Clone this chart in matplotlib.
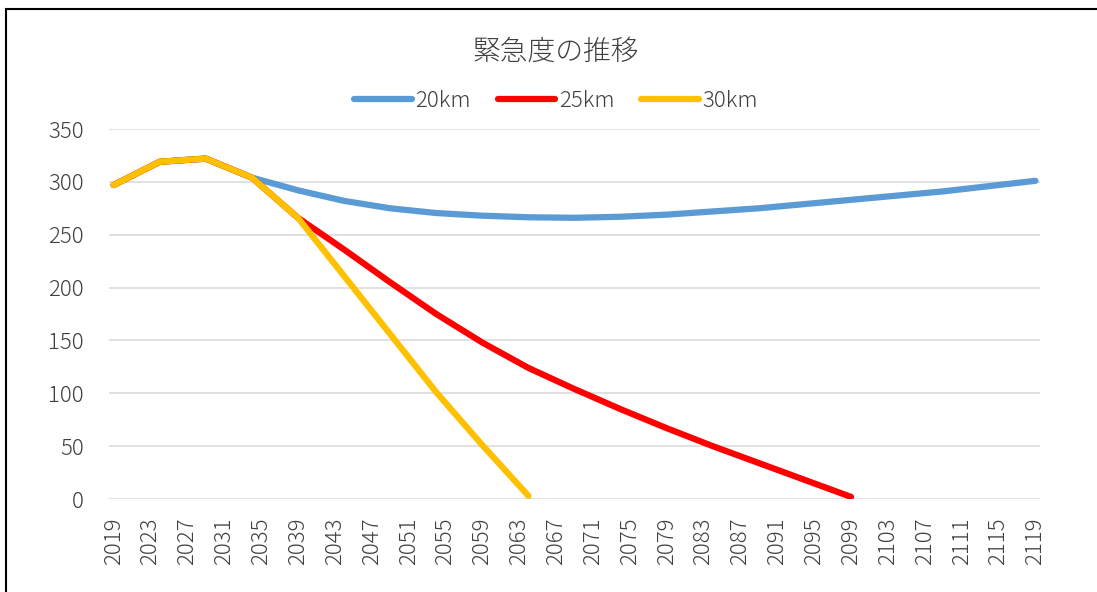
import numpy as np
import matplotlib.pyplot as plt
from matplotlib.patches import Rectangle

plt.rcParams['font.family'] = ['Noto Sans CJK JP', 'DejaVu Sans']
plt.rcParams['font.weight'] = 'light'

# data (5-year steps)
years_20 = [2019, 2024, 2029, 2034, 2039, 2044, 2049, 2054, 2059, 2064, 2069,
            2074, 2079, 2084, 2089, 2094, 2099, 2104, 2109, 2114, 2119]
vals_20 = [297, 319, 322, 304, 292, 282, 275, 270.5, 268, 266.5, 266,
           267, 269, 272, 275, 279, 283, 287, 291, 296, 301]

years_25 = [2019, 2024, 2029, 2034, 2039, 2044, 2049, 2054, 2059, 2064, 2069,
            2074, 2079, 2084, 2089, 2094, 2099]
vals_25 = [297, 319, 322, 304, 266, 236, 205, 175, 148, 124, 104,
           85, 67, 50, 34, 18, 2]

years_30 = [2019, 2024, 2029, 2034, 2039, 2044, 2049, 2054, 2059, 2064]
vals_30 = [297, 319, 322, 304, 266, 211, 156, 101, 51, 3]

title = "緊急度の推移"
labels = ["20km", "25km", "30km"]
colors = ["#5B9BD5", "#FF0000", "#FFC000"]
txt_color = '#404040'

fig = plt.figure(figsize=(10.97, 5.92), dpi=100)
ax = fig.add_axes([109 / 1097, 1 - 499 / 592, (1040 - 109) / 1097, 370 / 592])

# plot
series = [(years_20, vals_20), (years_25, vals_25), (years_30, vals_30)]
for (x, y), lab, c in zip(series, labels, colors):
    ax.plot(x, y, color=c, lw=4.5, label=lab, solid_capstyle='round',
            solid_joinstyle='round')

ax.set_xlim(2018.5, 2119.5)
ax.set_ylim(0, 350)
ax.set_yticks(np.arange(0, 351, 50))
ax.set_xticks(np.arange(2019, 2120, 4))
ax.tick_params(axis='x', length=0, pad=13, labelsize=16, rotation=90,
               colors=txt_color)
ax.tick_params(axis='y', length=0, pad=18, labelsize=16, colors=txt_color)
ax.grid(axis='y', color='#D9D9D9', lw=1.1)
ax.set_axisbelow(True)
for s in ax.spines.values():
    s.set_visible(False)

fig.text(556 / 1097, 1 - 52 / 592, title, ha='center', va='center',
         fontsize=20, color=txt_color)
fig.legend(loc='center', bbox_to_anchor=(556 / 1097, 1 - 101 / 592), ncol=3,
           frameon=False, fontsize=16, handlelength=2.6, handletextpad=0.15,
           columnspacing=1.2, labelcolor=txt_color)

# chart border
fig.patches.append(Rectangle((6 / 1097, -0.1), 1.2, 1 - 9 / 592 + 0.1,
                             transform=fig.transFigure, fill=False,
                             edgecolor='black', lw=1.5))

fig.savefig('out.png', dpi=100)
